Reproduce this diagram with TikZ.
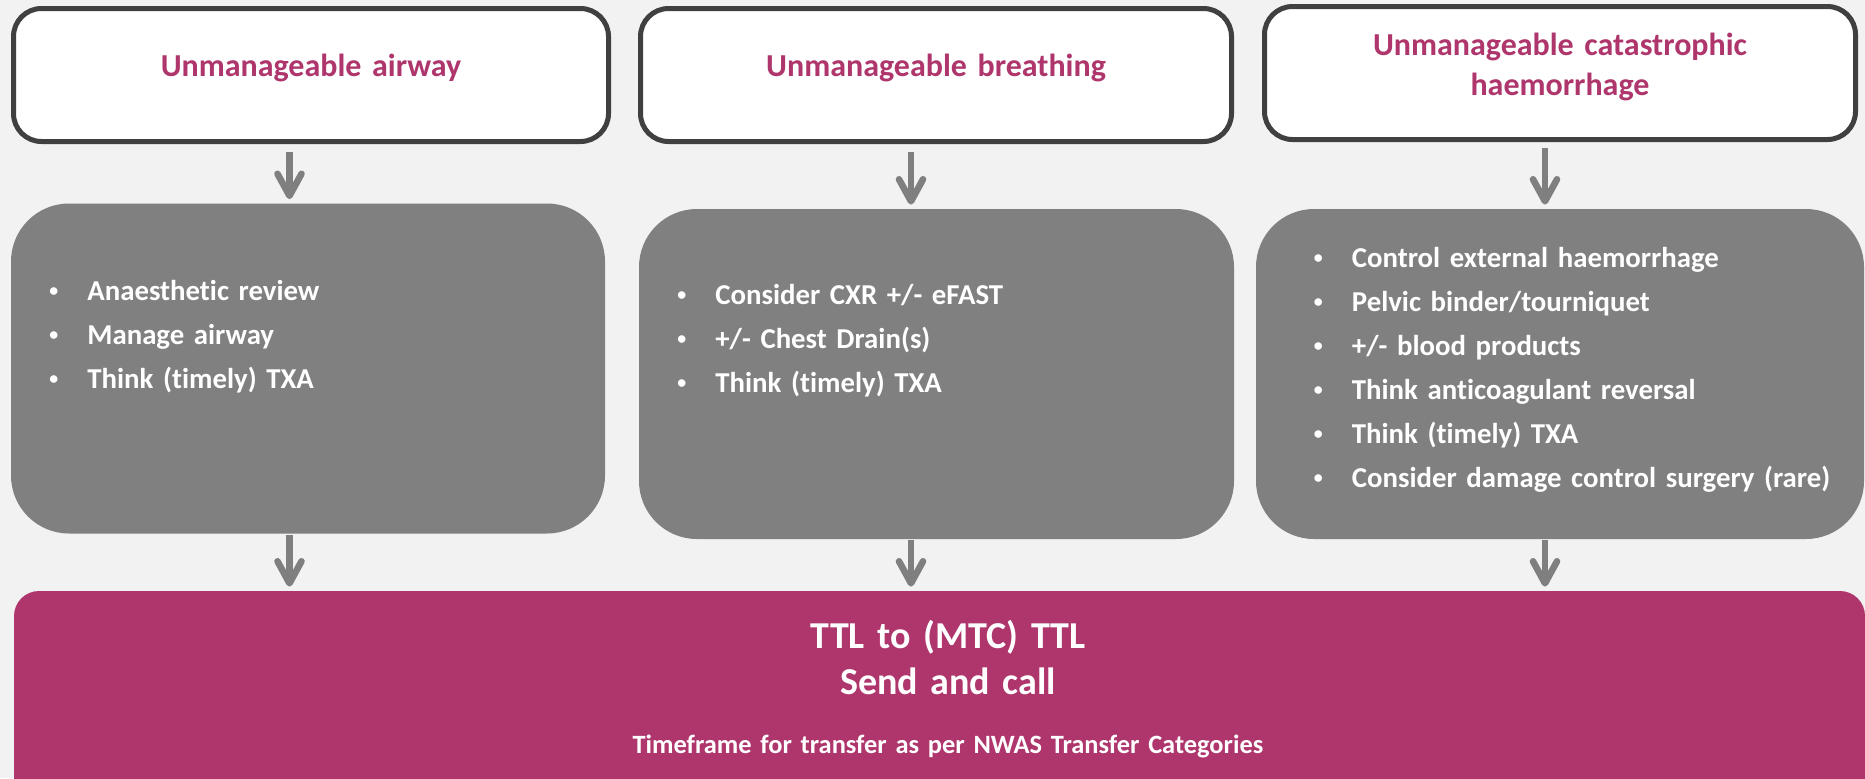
\documentclass[tikz,border=0pt]{standalone}
\usepackage{fontspec}
\usepackage{graphicx}
\setmainfont{Carlito}[Ligatures=NoCommon]
\usetikzlibrary{arrows.meta}

\definecolor{bgcol}{RGB}{242,242,242}
\definecolor{ttlpink}{RGB}{175,54,108}
\definecolor{boxgray}{RGB}{128,128,128}
\definecolor{framegray}{RGB}{64,64,64}
\definecolor{arrgray}{RGB}{127,127,127}

\newcommand{\bitem}[1]{\makebox[20pt][l]{\hspace{1pt}\raisebox{1.6pt}{\scalebox{0.62}{\textbullet}}}#1}

\tikzset{
  headbox/.style={draw=framegray, line width=2.5pt, fill=white, rounded corners=14pt,
    minimum width=295.5pt, minimum height=66.5pt, inner sep=0pt},
  headtext/.style={text=ttlpink, font=\fontsize{16}{20}\selectfont\bfseries, align=center,
    text width=290pt, inner sep=0pt, anchor=base},
  actbox/.style={fill=boxgray, rounded corners=29pt, minimum height=165pt, inner sep=0pt},
  acttext/.style={text=white, font=\fontsize{14.4}{22}\selectfont\bfseries, align=left,
    text width=280pt, inner sep=0pt, anchor=base west},
  goalbox/.style={fill=ttlpink, rounded corners=12.5pt, minimum width=925.5pt,
    minimum height=119.5pt, inner sep=0pt},
  goaltext/.style={text=white, align=center, text width=600pt, inner sep=0pt, anchor=base},
  arr/.style={draw=arrgray, line width=3.3pt, -{Straight Barb[length=11pt,width=12pt,round]},
    shorten >=2pt}
}

\begin{document}
\begin{tikzpicture}[x=0.5pt,y=0.5pt,yscale=-1]
\useasboundingbox (0,0) rectangle (1865,778);
\fill[bgcol] (0,0) rectangle (1865,778);
\clip (0,0) rectangle (1865,778);

%Shape: top boxes
\node[headbox, minimum width=297.5pt] (air) at (311,75) {};
\node[headbox] (breath) at (936,75) {};
\node[headbox] (haem) at (1560,73) {};

% Text Node
\node[headtext] (airT) at (311,76) {Unmanageable airway};
\node[headtext] (breathT) at (936,76) {Unmanageable breathing};
\node[headtext] (haemT) at (1560,55) {Unmanageable catastrophic\\haemorrhage};

%Shape: action boxes
\node[actbox, minimum width=297pt] (act1) at (308,368.5) {};
\node[actbox, minimum width=297.5pt] (act2) at (936.5,374) {};
\node[actbox, minimum width=304pt] (act3) at (1560,374) {};

% Text Node
\node[acttext] (list1) at (47,300) {\bitem{Anaesthetic review}\\
  \bitem{Manage airway}\\
  \bitem{Think (timely) TXA}};
\node[acttext] (list2) at (675,304) {\bitem{Consider CXR +/- eFAST}\\
  \bitem{+/- Chest Drain(s)}\\
  \bitem{Think (timely) TXA}};
\node[acttext] (list3) at (1311.5,267) {\bitem{Control external haemorrhage}\\
  \bitem{Pelvic binder/tourniquet}\\
  \bitem{+/- blood products}\\
  \bitem{Think anticoagulant reversal}\\
  \bitem{Think (timely) TXA}\\
  \bitem{Consider damage control surgery (rare)}};

%Shape: transfer box
\node[goalbox] (goal) at (939.5,710.5) {};

% Text Node
\node[goaltext, font=\fontsize{19}{23}\selectfont\bfseries] (goalT) at (948,648) {TTL to (MTC) TTL\\Send and call};
\node[goaltext, font=\fontsize{13.2}{16}\selectfont\bfseries] (goalN) at (948,753) {Timeframe for transfer as per NWAS Transfer Categories};

%Straight Lines: arrows
\coordinate (col1) at (289.5,0);
\coordinate (col2) at (911,0);
\coordinate (col3) at (1545,0);

\draw[arr, shorten <=3.75pt] (air.south -| col1) -- (act1.north -| col1);
\draw[arr, shorten <=3.75pt] (breath.south -| col2) -- (act2.north -| col2);
\draw[arr, shorten <=2.75pt] (haem.south -| col3) -- (act3.north -| col3);

\draw[arr, shorten <=0.5pt] (act1.south -| col1) -- (goal.north -| col1);
\draw[arr, shorten <=0.5pt] (act2.south -| col2) -- (goal.north -| col2);
\draw[arr, shorten <=0.5pt] (act3.south -| col3) -- (goal.north -| col3);

\end{tikzpicture}
\end{document}
